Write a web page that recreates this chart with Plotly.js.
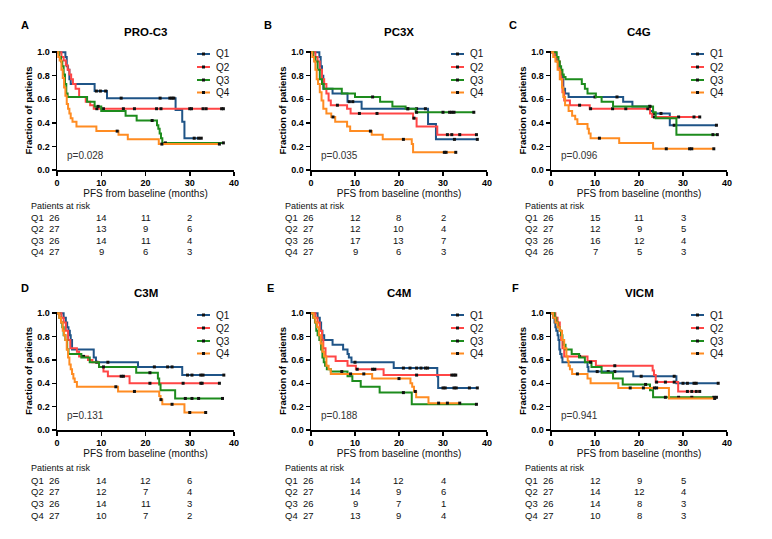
<!DOCTYPE html>
<html><head><meta charset="utf-8">
<script src="https://cdn.plot.ly/plotly-3.0.1.min.js"></script>
<style>html,body{margin:0;padding:0;background:#fff}#chart{width:772px;height:539px}</style>
</head><body><div id="chart"></div>
<script>
// ---------------- DATA ----------------
// Each series: *_t = times where survival changes (last = end of follow-up), *_s = survival after each time, *_c = censor times
// Panel A: PRO-C3
const A_Q1_t = [0,1.9,2.2,2.5,2.8,3.1,8.5,11.3,26.8,28.3,28.8,32.6];
const A_Q1_s = [1,0.96,0.88,0.85,0.77,0.73,0.67,0.61,0.51,0.41,0.27,0.27];
const A_Q1_c = [8.9,9.8,11.0,14.5,23.3,25.5,26.0,26.4,31.0,32.0,32.6];
const A_Q2_t = [0,1.0,1.5,2.0,2.4,2.8,3.2,3.6,4.2,5.0,6.5,7.5,8.3,37.6];
const A_Q2_s = [1,0.96,0.93,0.89,0.85,0.81,0.77,0.73,0.69,0.62,0.58,0.55,0.52,0.52];
const A_Q2_c = [9.0,10.5,15.0,17.5,22.5,23.5,30.0,30.4,33.0,33.7,37.2,37.6];
const A_Q3_t = [0,0.5,0.9,1.2,1.5,1.8,2.1,2.4,6.8,8.5,10.0,15.5,18.0,22.6,22.9,23.2,23.5,23.8,37.6];
const A_Q3_s = [1,0.96,0.92,0.88,0.81,0.73,0.65,0.62,0.58,0.54,0.50,0.46,0.42,0.38,0.35,0.31,0.27,0.23,0.23];
const A_Q3_c = [9.3,21.5,24.5,37.6];
const A_Q4_t = [0,0.3,0.6,1.0,1.3,1.6,1.9,2.2,2.5,2.8,3.1,3.5,4.4,8.9,13.9,16.0,23.0,36.7];
const A_Q4_s = [1,0.96,0.93,0.85,0.78,0.70,0.63,0.56,0.52,0.48,0.44,0.41,0.37,0.33,0.30,0.26,0.22,0.22];
const A_Q4_c = [13.6,23.7,36.7];
// Panel B: PC3X
const B_Q1_t = [0,1.9,2.2,2.5,2.8,4.9,8.3,11.5,26.6,28.4,37.8];
const B_Q1_s = [1,0.96,0.88,0.80,0.69,0.65,0.58,0.52,0.39,0.26,0.26];
const B_Q1_c = [8.7,9.5,22.0,24.0,26.0,32.6,37.8];
const B_Q2_t = [0,1.0,1.5,2.0,2.5,3.0,3.5,4.0,4.5,8.2,9.0,23.2,24.0,28.7,37.6];
const B_Q2_s = [1,0.96,0.92,0.85,0.77,0.73,0.65,0.59,0.55,0.52,0.48,0.44,0.37,0.30,0.30];
const B_Q2_c = [6.0,11.0,15.0,23.4,31.0,32.0,33.8,37.6];
const B_Q3_t = [0,0.5,1.0,1.5,2.0,2.5,2.9,7.0,10.0,15.7,18.5,21.5,23.8,37.0];
const B_Q3_s = [1,0.96,0.92,0.85,0.77,0.73,0.69,0.65,0.62,0.58,0.54,0.52,0.49,0.49];
const B_Q3_c = [14.0,22.0,24.0,30.0,31.5,32.0,32.5,37.0];
const B_Q4_t = [0,0.3,0.7,1.0,1.3,1.6,2.0,2.4,2.8,3.5,4.6,5.5,8.2,8.9,13.8,16.3,22.9,23.2,32.9];
const B_Q4_s = [1,0.96,0.92,0.85,0.77,0.73,0.66,0.59,0.52,0.48,0.45,0.41,0.37,0.33,0.30,0.26,0.22,0.15,0.15];
const B_Q4_c = [5.0,13.5,21.0,30.3,30.7,32.9];
// Panel C: C4G
const C_Q1_t = [0,1.0,1.3,1.6,1.9,2.2,2.5,2.8,3.2,4.0,16.4,18.5,22.5,23.2,27.0,37.6];
const C_Q1_s = [1,0.96,0.92,0.88,0.85,0.81,0.77,0.69,0.65,0.62,0.58,0.54,0.50,0.48,0.38,0.38];
const C_Q1_c = [10.0,15.0,22.4,23.5,25.0,28.0,37.6];
const C_Q2_t = [0,1.0,1.5,2.0,2.3,2.6,3.0,4.3,8.8,22.5,23.0,33.8];
const C_Q2_s = [1,0.96,0.92,0.85,0.77,0.66,0.59,0.55,0.52,0.48,0.45,0.45];
const C_Q2_c = [6.5,9.0,14.0,17.0,22.0,23.5,29.0,32.5,33.8];
const C_Q3_t = [0,1.3,1.7,2.0,2.3,2.6,2.9,3.3,7.0,7.7,8.3,10.2,11.5,14.1,23.2,23.8,28.5,37.8];
const C_Q3_s = [1,0.96,0.92,0.88,0.85,0.81,0.79,0.77,0.73,0.69,0.65,0.62,0.58,0.54,0.49,0.44,0.30,0.30];
const C_Q3_c = [22.5,36.8,37.8];
const C_Q4_t = [0,0.5,1.0,1.5,2.0,2.5,2.8,3.2,4.0,4.8,5.5,6.0,8.3,8.6,9.0,15.5,23.2,37.0];
const C_Q4_s = [1,0.96,0.92,0.85,0.77,0.70,0.62,0.55,0.50,0.46,0.43,0.39,0.35,0.31,0.27,0.23,0.18,0.18];
const C_Q4_c = [11.0,26.2,31.5,32.0,37.0];
// Panel D: C3M
const D_Q1_t = [0,1.5,2.0,2.3,2.6,2.9,3.1,3.4,8.3,8.8,18.3,28.3,37.7];
const D_Q1_s = [1,0.96,0.92,0.88,0.85,0.81,0.77,0.69,0.62,0.58,0.54,0.47,0.47];
const D_Q1_c = [9.0,11.5,22.0,25.0,26.0,29.5,30.5,32.5,33.0,37.7];
const D_Q2_t = [0,1.0,1.5,2.0,2.5,3.0,4.5,5.0,7.0,8.0,9.5,10.5,11.5,16.4,36.7];
const D_Q2_s = [1,0.96,0.92,0.85,0.77,0.70,0.67,0.63,0.60,0.58,0.54,0.50,0.46,0.40,0.40];
const D_Q2_c = [6.0,14.5,15.0,21.0,28.5,32.5,32.8,36.7];
const D_Q3_t = [0,0.5,0.9,1.2,1.5,1.9,2.3,2.6,5.5,7.4,9.5,17.9,22.8,23.1,23.4,26.7,37.4];
const D_Q3_s = [1,0.96,0.92,0.88,0.81,0.77,0.69,0.65,0.62,0.58,0.54,0.49,0.44,0.39,0.34,0.27,0.27];
const D_Q3_c = [10.5,21.0,29.0,30.5,32.0,37.4];
const D_Q4_t = [0,0.5,0.9,1.3,1.6,1.9,2.2,2.5,2.8,3.1,3.4,3.7,4.0,4.5,13.8,23.1,23.4,23.8,28.8,33.6];
const D_Q4_s = [1,0.96,0.92,0.85,0.81,0.77,0.69,0.62,0.56,0.52,0.48,0.44,0.41,0.37,0.33,0.29,0.26,0.22,0.15,0.15];
const D_Q4_c = [13.3,17.5,23.5,26.0,30.0,33.6];
// Panel E: C4M
const E_Q1_t = [0,1.5,2.0,2.3,2.6,3.0,4.9,7.3,8.3,8.6,9.2,18.8,28.7,28.9,37.8];
const E_Q1_s = [1,0.96,0.92,0.85,0.81,0.77,0.73,0.69,0.65,0.62,0.58,0.53,0.46,0.36,0.36];
const E_Q1_c = [10.0,21.0,22.5,24.0,25.0,26.0,26.5,30.0,30.5,32.5,33.0,36.0,37.8];
const E_Q2_t = [0,1.0,1.5,2.0,2.5,2.8,3.3,5.6,8.3,10.2,16.5,32.9];
const E_Q2_s = [1,0.96,0.92,0.85,0.77,0.70,0.63,0.59,0.55,0.52,0.47,0.47];
const E_Q2_c = [10.5,14.0,14.5,24.0,32.0,32.5,32.9];
const E_Q3_t = [0,0.5,0.9,1.2,1.5,1.9,2.3,2.6,2.9,3.2,3.6,4.5,8.3,9.4,11.3,15.6,22.9,37.6];
const E_Q3_s = [1,0.96,0.92,0.85,0.81,0.77,0.69,0.62,0.58,0.55,0.52,0.50,0.46,0.42,0.37,0.32,0.22,0.22];
const E_Q3_c = [7.0,21.0,37.6];
const E_Q4_t = [0,0.6,1.0,1.4,1.8,2.2,2.6,3.0,3.5,4.0,4.5,13.9,22.6,23.0,23.4,23.9,26.7,33.8];
const E_Q4_s = [1,0.96,0.92,0.88,0.81,0.74,0.67,0.63,0.55,0.52,0.48,0.44,0.40,0.37,0.33,0.28,0.23,0.23];
const E_Q4_c = [9.0,12.0,20.0,23.7,29.0,31.0,33.8];
// Panel F: VICM
const F_Q1_t = [0,0.5,0.8,1.0,1.2,1.5,1.7,1.9,2.1,2.4,2.6,8.3,8.5,18.7,28.5,38.0];
const F_Q1_s = [1,0.96,0.92,0.88,0.85,0.81,0.77,0.69,0.65,0.62,0.58,0.54,0.50,0.46,0.40,0.40];
const F_Q1_c = [10.5,13.0,14.5,20.5,28.0,30.0,31.0,32.5,33.0,38.0];
const F_Q2_t = [0,1.0,1.5,2.0,2.3,2.6,3.0,8.3,10.2,23.1,23.4,23.8,28.9,33.8];
const F_Q2_s = [1,0.96,0.92,0.85,0.77,0.70,0.63,0.59,0.55,0.51,0.47,0.41,0.33,0.33];
const F_Q2_c = [6.5,14.5,24.0,26.0,28.0,31.0,32.0,33.0,33.8];
const F_Q3_t = [0,0.8,1.2,1.6,2.0,2.3,2.6,2.9,3.3,4.7,6.4,7.7,9.2,11.5,14.1,16.3,22.5,23.2,37.6];
const F_Q3_s = [1,0.96,0.92,0.88,0.85,0.81,0.77,0.73,0.69,0.65,0.62,0.58,0.54,0.49,0.44,0.39,0.34,0.28,0.28];
const F_Q3_c = [9.0,21.5,26.0,29.0,32.0,37.0,37.6];
const F_Q4_t = [0,0.5,1.0,1.5,2.0,2.5,3.0,3.5,3.8,4.0,4.3,4.8,8.3,9.0,15.3,26.8,37.2];
const F_Q4_s = [1,0.96,0.92,0.88,0.85,0.77,0.70,0.63,0.59,0.55,0.52,0.48,0.44,0.40,0.36,0.27,0.27];
const F_Q4_c = [6.0,18.0,21.0,23.5,24.0,37.2];

// Patients at risk at 0, 10, 20, 30 months
const A_risk = [[26,14,11,2],[27,13,9,6],[26,14,11,4],[27,9,6,3]];
const B_risk = [[26,12,8,2],[27,12,10,4],[26,17,13,7],[27,9,6,3]];
const C_risk = [[26,15,11,3],[27,12,9,5],[26,16,12,4],[26,7,5,3]];
const D_risk = [[26,14,12,6],[27,12,7,4],[26,14,11,3],[27,10,7,2]];
const E_risk = [[26,14,12,4],[27,14,9,6],[26,9,7,1],[27,13,9,4]];
const F_risk = [[26,12,9,5],[27,14,12,4],[26,14,8,3],[27,10,8,3]];

const panelLetters = ['A','B','C','D','E','F'];
const panelTitles = ['PRO-C3','PC3X','C4G','C3M','C4M','VICM'];
const pValues = ['p=0.028','p=0.035','p=0.096','p=0.131','p=0.188','p=0.941'];
const quartiles = ['Q1','Q2','Q3','Q4'];
const qColors = ['#1f5487','#ff4646','#1d8c1d','#ff8c22'];
const xTickVals = [0,10,20,30,40];
const yTickVals = [0,0.2,0.4,0.6,0.8,1.0];
const riskTimes = [0,10,20,30];

// ---------------- tables built from the arrays ----------------
const SERIES = {
  A:[[A_Q1_t,A_Q1_s,A_Q1_c],[A_Q2_t,A_Q2_s,A_Q2_c],[A_Q3_t,A_Q3_s,A_Q3_c],[A_Q4_t,A_Q4_s,A_Q4_c]],
  B:[[B_Q1_t,B_Q1_s,B_Q1_c],[B_Q2_t,B_Q2_s,B_Q2_c],[B_Q3_t,B_Q3_s,B_Q3_c],[B_Q4_t,B_Q4_s,B_Q4_c]],
  C:[[C_Q1_t,C_Q1_s,C_Q1_c],[C_Q2_t,C_Q2_s,C_Q2_c],[C_Q3_t,C_Q3_s,C_Q3_c],[C_Q4_t,C_Q4_s,C_Q4_c]],
  D:[[D_Q1_t,D_Q1_s,D_Q1_c],[D_Q2_t,D_Q2_s,D_Q2_c],[D_Q3_t,D_Q3_s,D_Q3_c],[D_Q4_t,D_Q4_s,D_Q4_c]],
  E:[[E_Q1_t,E_Q1_s,E_Q1_c],[E_Q2_t,E_Q2_s,E_Q2_c],[E_Q3_t,E_Q3_s,E_Q3_c],[E_Q4_t,E_Q4_s,E_Q4_c]],
  F:[[F_Q1_t,F_Q1_s,F_Q1_c],[F_Q2_t,F_Q2_s,F_Q2_c],[F_Q3_t,F_Q3_s,F_Q3_c],[F_Q4_t,F_Q4_s,F_Q4_c]]
};
const RISK = {A:A_risk,B:B_risk,C:C_risk,D:D_risk,E:E_risk,F:F_risk};

// ---------------- geometry (pixels) ----------------
const W = 772, H = 539;
const FONT = 'Arial, "Liberation Sans", sans-serif';
const colX = [[57,234],[311,487],[551,727]];
const rowY = [[51,170],[312,430]];
const letterPos = [[25,25],[268,25],[513,25],[25,288],[270,288],[515,288]];
const tableY = [[206,217,228.7,240.3,252],[468,480,491.7,503.3,515]];
const legendDY = [3,16,29,41.5];
const px = v => v / W;
const py = v => 1 - v / H;

function survAt(t, ts, ss) {
  let v = ss[0];
  for (let i = 0; i < ts.length; i++) { if (ts[i] <= t) v = ss[i]; }
  return v;
}

const traces = [];
const layout = {
  width: W, height: H,
  margin: {l:0, r:0, t:0, b:0},
  paper_bgcolor: '#fff', plot_bgcolor: '#fff',
  showlegend: false,
  font: {family: FONT, color: '#000'},
  annotations: [], shapes: []
};

panelLetters.forEach((P, i) => {
  const col = i % 3, row = Math.floor(i / 3);
  const suf = i === 0 ? '' : String(i + 1);
  const xa = 'x' + suf, ya = 'y' + suf;
  const [x0, x1] = colX[col];
  const [yTop, yBot] = rowY[row];
  const monthToPx = m => x0 + m * (x1 - x0) / 40;

  SERIES[P].forEach((ser, q) => {
    const [t, s, c] = ser;
    traces.push({
      x: t, y: s, mode: 'lines', xaxis: xa, yaxis: ya,
      line: {shape: 'hv', color: qColors[q], width: 2},
      name: quartiles[q], hoverinfo: 'skip'
    });
    traces.push({
      x: c, y: c.map(v => survAt(v, t, s)), mode: 'markers', xaxis: xa, yaxis: ya,
      marker: {symbol: 'square', size: 3, color: '#111', line: {width: 0}},
      name: quartiles[q] + ' censored', hoverinfo: 'skip', cliponaxis: false
    });
  });

  layout['xaxis' + suf] = {
    domain: [px(x0), px(x1)], range: [0, 40], anchor: ya,
    tickvals: xTickVals, ticks: 'outside', ticklen: 4, tickwidth: 1.5, tickcolor: '#000',
    showline: true, linewidth: 1.5, linecolor: '#000', showgrid: false, zeroline: false,
    tickfont: {family: FONT, size: 9, weight: 700, color: '#000'},
    title: {text: 'PFS from baseline (months)', font: {family: FONT, size: 10, color: '#111'}, standoff: 2},
    fixedrange: true
  };
  layout['yaxis' + suf] = {
    domain: [py(yBot), py(yTop)], range: [0, 1.01], anchor: xa,
    tickvals: yTickVals, tickformat: '.1f', ticks: 'outside', ticklen: 4, tickwidth: 1.5, tickcolor: '#000',
    showline: true, linewidth: 1.5, linecolor: '#000', showgrid: false, zeroline: false,
    tickfont: {family: FONT, size: 9, weight: 700, color: '#000'},
    title: {text: 'Fraction of patients', font: {family: FONT, size: 9.5, weight: 700, color: '#000'}, standoff: 3},
    fixedrange: true
  };

  // panel letter and title
  layout.annotations.push({
    xref: 'paper', yref: 'paper', x: px(letterPos[i][0]), y: py(letterPos[i][1]),
    text: '<b>' + P + '</b>', showarrow: false, xanchor: 'center', yanchor: 'middle',
    font: {family: FONT, size: 11, color: '#000'}
  });
  layout.annotations.push({
    xref: 'paper', yref: 'paper', x: px((x0 + x1) / 2), y: py(yTop - 19),
    text: '<b>' + panelTitles[i] + '</b>', showarrow: false, xanchor: 'center', yanchor: 'middle',
    font: {family: FONT, size: 11.5, color: '#000'}
  });
  // p-value
  layout.annotations.push({
    xref: xa, yref: ya, x: 1.8, y: 0.12, text: pValues[i], showarrow: false,
    xanchor: 'left', yanchor: 'middle', font: {family: FONT, size: 10, color: '#333'}
  });
  // legend
  quartiles.forEach((Q, q) => {
    const ly = yTop + legendDY[q];
    const lx0 = x0 + 140, lx1 = x0 + 153;
    layout.shapes.push({type: 'line', xref: 'paper', yref: 'paper',
      x0: px(lx0), x1: px(lx1), y0: py(ly), y1: py(ly), line: {color: qColors[q], width: 2}});
    layout.shapes.push({type: 'rect', xref: 'paper', yref: 'paper',
      x0: px((lx0 + lx1) / 2 - 1.5), x1: px((lx0 + lx1) / 2 + 1.5), y0: py(ly - 1.5), y1: py(ly + 1.5),
      fillcolor: '#111', line: {width: 0}});
    layout.annotations.push({
      xref: 'paper', yref: 'paper', x: px(x0 + 157), y: py(ly), text: Q, showarrow: false,
      xanchor: 'left', yanchor: 'middle', font: {family: FONT, size: 10, color: '#111'}
    });
  });
  // patients at risk table (placed under the panel's month scale)
  const ty = tableY[row];
  const labelX = px(monthToPx(-6.3));
  layout.annotations.push({
    xref: 'paper', yref: 'paper', x: labelX, y: py(ty[0]), text: 'Patients at risk', showarrow: false,
    xanchor: 'left', yanchor: 'middle', font: {family: FONT, size: 9, color: '#111'}
  });
  RISK[P].forEach((vals, q) => {
    layout.annotations.push({
      xref: 'paper', yref: 'paper', x: labelX, y: py(ty[q + 1]), text: quartiles[q], showarrow: false,
      xanchor: 'left', yanchor: 'middle', font: {family: FONT, size: 9.5, color: '#111'}
    });
    vals.forEach((v, k) => {
      const m = k === 0 ? -0.5 : riskTimes[k];
      layout.annotations.push({
        xref: 'paper', yref: 'paper', x: px(monthToPx(m)), y: py(ty[q + 1]), text: String(v),
        showarrow: false, xanchor: 'center', yanchor: 'middle', font: {family: FONT, size: 9.5, color: '#111'}
      });
    });
  });
});

Plotly.newPlot('chart', traces, layout, {displayModeBar: false, staticPlot: true});
</script>
</body></html>
